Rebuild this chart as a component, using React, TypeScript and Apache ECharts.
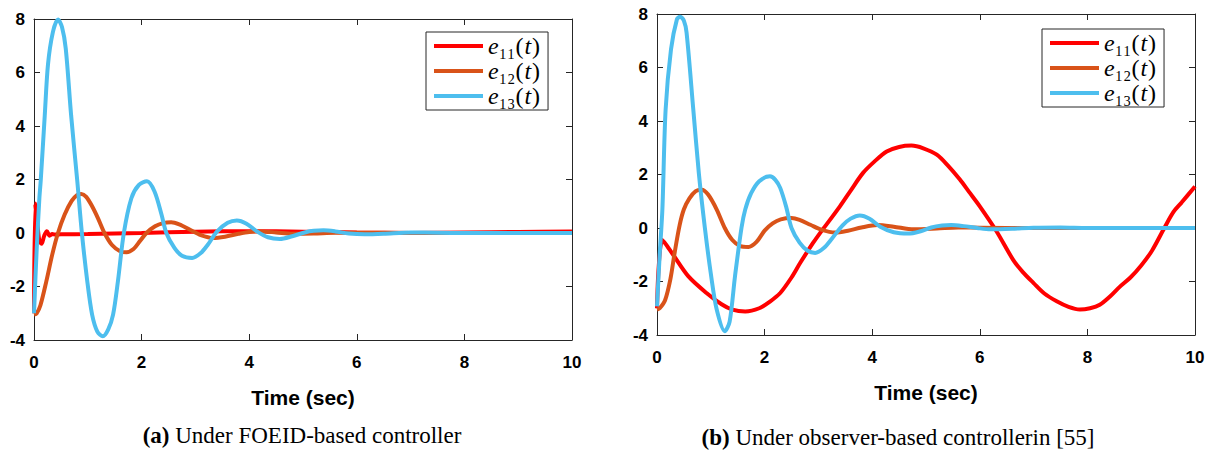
import React, { useEffect, useRef } from "react";
import * as echarts from "echarts";

// ---------- data ----------
const seriesNames = ["e₁₁(t)", "e₁₂(t)", "e₁₃(t)"];
const xTicks = [0, 2, 4, 6, 8, 10];
const yTicks = [-4, -2, 0, 2, 4, 6, 8];
const xLabel = "Time (sec)";
const captionA = ["(a)", " Under FOEID-based controller"];
const captionB = ["(b)", " Under observer-based controllerin [55]"];

// (a) Under FOEID-based controller
const a_e11: number[][] = [
  [0, -3], [0.02, 1.1], [0.05, 0.6], [0.1, -0.3], [0.14, -0.4], [0.19, -0.1], [0.24, 0.07],
  [0.29, -0.1], [0.34, -0.04], [0.4, -0.06], [0.5, -0.05], [1, -0.04], [2, 0.0], [3, 0.05],
  [4, 0.07], [5, 0.05], [6, 0.02], [7, 0.0], [8, 0.02], [9, 0.04], [10, 0.06],
];
const a_e12: number[][] = [
  [0, -3.05], [0.05, -3.0], [0.12, -2.7], [0.23, -1.8], [0.34, -0.8], [0.446, 0], [0.57, 0.69],
  [0.7, 1.2], [0.8, 1.42], [0.88, 1.46], [0.97, 1.35], [1.08, 1.0], [1.19, 0.55], [1.31, 0],
  [1.45, -0.45], [1.6, -0.68], [1.72, -0.72], [1.85, -0.6], [1.97, -0.3], [2.09, 0],
  [2.25, 0.25], [2.4, 0.37], [2.55, 0.4], [2.7, 0.32], [2.9, 0.12], [3.1, -0.08], [3.33, -0.19],
  [3.55, -0.14], [3.8, -0.03], [4.0, 0.04], [4.2, 0.06], [4.5, 0.02], [4.8, -0.03], [5.2, -0.02],
  [5.6, 0.01], [6, 0.01], [7, 0], [8, 0], [10, 0],
];
const a_e13: number[][] = [
  [0, -3], [0.05, -0.6], [0.1, 1.3], [0.124, 1.93], [0.2, 4.4], [0.26, 6.3], [0.35, 7.5],
  [0.446, 7.98], [0.52, 7.7], [0.59, 6.9], [0.69, 4.4], [0.805, 1.93], [0.89, 0], [0.99, -1.8],
  [1.08, -3.05], [1.18, -3.7], [1.28, -3.86], [1.38, -3.6], [1.47, -3.05], [1.56, -1.8],
  [1.67, 0], [1.81, 1.3], [1.95, 1.8], [2.1, 1.93], [2.24, 1.55], [2.37, 0.69], [2.46, 0],
  [2.61, -0.56], [2.75, -0.85], [2.94, -0.93], [3.1, -0.75], [3.23, -0.44], [3.4, 0.05],
  [3.6, 0.38], [3.77, 0.47], [3.95, 0.35], [4.15, 0.05], [4.35, -0.16], [4.57, -0.22],
  [4.8, -0.12], [5.05, 0.03], [5.2, 0.08], [5.38, 0.1], [5.6, 0.06], [5.85, -0.02], [6.15, -0.05],
  [6.5, -0.03], [7.0, 0.02], [7.5, 0.01], [8, 0], [9, 0], [10, 0],
];

// (b) Under observer-based controller
const b_e11: number[][] = [
  [0, -3], [0.1, -0.45], [0.3, -1.0], [0.58, -1.8], [0.92, -2.43], [1.2, -2.85], [1.4, -3.05],
  [1.64, -3.12], [1.9, -3.0], [2.1, -2.75], [2.29, -2.43], [2.5, -1.85], [2.66, -1.31],
  [2.9, -0.56], [3.03, -0.19], [3.12, 0.05], [3.4, 0.81], [3.6, 1.4], [3.83, 2.06], [4.05, 2.5],
  [4.27, 2.86], [4.5, 3.03], [4.73, 3.08], [4.95, 2.98], [5.2, 2.74], [5.4, 2.35], [5.63, 1.81],
  [5.8, 1.35], [6.0, 0.81], [6.31, -0.12], [6.62, -1.19], [6.8, -1.65], [7.0, -2.06],
  [7.2, -2.45], [7.43, -2.74], [7.65, -2.95], [7.86, -3.05], [8.05, -3.0], [8.23, -2.87],
  [8.42, -2.56], [8.6, -2.2], [8.8, -1.85], [9.0, -1.4], [9.2, -0.85], [9.43, 0], [9.6, 0.6],
  [9.75, 0.95], [10, 1.55],
];
const b_e12: number[][] = [
  [0, -3.05], [0.05, -3.0], [0.15, -2.7], [0.25, -1.9], [0.33, -0.9], [0.42, 0.1], [0.5, 0.7],
  [0.6, 1.1], [0.72, 1.38], [0.83, 1.43], [0.95, 1.25], [1.11, 0.69], [1.26, 0], [1.4, -0.45],
  [1.55, -0.68], [1.7, -0.71], [1.85, -0.52], [2.0, -0.1], [2.15, 0.17], [2.3, 0.32], [2.5, 0.37],
  [2.65, 0.3], [2.85, 0.12], [3.05, -0.06], [3.31, -0.17], [3.55, -0.1], [3.8, 0.02],
  [4.1, 0.11], [4.4, 0.05], [4.77, -0.05], [5.2, -0.02], [5.6, 0.02], [6, 0.01], [7, 0], [8, 0],
  [10, 0],
];
const b_e13: number[][] = [
  [0, -2.93], [0.05, -1.0], [0.1, 0.69], [0.16, 4.42], [0.26, 6.67], [0.37, 7.8], [0.43, 7.9],
  [0.5, 7.75], [0.55, 7.3], [0.675, 4.42], [0.78, 2.0], [0.89, 0], [1.0, -1.7], [1.11, -3.05],
  [1.26, -3.86], [1.35, -3.5], [1.45, -1.8], [1.57, 0], [1.64, 0.69], [1.75, 1.3], [1.9, 1.75],
  [2.1, 1.93], [2.2, 1.8], [2.29, 1.5], [2.4, 0.8], [2.5, 0], [2.65, -0.55], [2.8, -0.85],
  [2.94, -0.93], [3.1, -0.75], [3.25, -0.4], [3.45, 0.1], [3.6, 0.35], [3.77, 0.47], [3.95, 0.35],
  [4.15, 0.05], [4.4, -0.16], [4.67, -0.21], [4.9, -0.12], [5.1, 0.02], [5.3, 0.09], [5.47, 0.11],
  [5.7, 0.07], [5.95, 0.0], [6.2, -0.05], [6.6, -0.03], [7, 0.01], [7.5, 0.02], [8, 0], [9, 0],
  [10, 0],
];

const colors = ["#FF0000", "#D95319", "#4DBEEE"];

// ---------- options ----------
const AX = "#262626";
const SANS = "Liberation Sans, Arial, sans-serif";
const SERIF = "Liberation Serif, Times New Roman, serif";
const tickFont = { fontSize: 17, fontWeight: "bold" as const, color: "#000", fontFamily: SANS };

function xAxes(gridIndex: number) {
  return [
    {
      gridIndex, type: "value", position: "bottom", min: xTicks[0], max: xTicks[xTicks.length - 1], interval: 2,
      axisLine: { show: true, onZero: false, lineStyle: { color: AX, width: 1 } },
      axisTick: { show: true, inside: true, length: 6, lineStyle: { color: AX } },
      axisLabel: { ...tickFont, margin: 14 },
      splitLine: { show: false },
      name: xLabel, nameLocation: "middle", nameGap: 47,
      nameTextStyle: { fontSize: 21, fontWeight: "bold", color: "#000", fontFamily: SANS },
    },
    {
      gridIndex, type: "value", position: "top", min: xTicks[0], max: xTicks[xTicks.length - 1], interval: 2,
      axisLine: { show: true, onZero: false, lineStyle: { color: AX, width: 1 } },
      axisTick: { show: true, inside: true, length: 6, lineStyle: { color: AX } },
      axisLabel: { show: false }, splitLine: { show: false },
    },
  ];
}
function yAxes(gridIndex: number) {
  return [
    {
      gridIndex, type: "value", position: "left", min: yTicks[0], max: yTicks[yTicks.length - 1], interval: 2,
      axisLine: { show: true, onZero: false, lineStyle: { color: AX, width: 1 } },
      axisTick: { show: true, inside: true, length: 6, lineStyle: { color: AX } },
      axisLabel: { ...tickFont, margin: 9 },
      splitLine: { show: false },
    },
    {
      gridIndex, type: "value", position: "right", min: yTicks[0], max: yTicks[yTicks.length - 1], interval: 2,
      axisLine: { show: true, onZero: false, lineStyle: { color: AX, width: 1 } },
      axisTick: { show: true, inside: true, length: 6, lineStyle: { color: AX } },
      axisLabel: { show: false }, splitLine: { show: false },
    },
  ];
}

function lineSeries(name: string, data: number[][], color: string, axisBase: number) {
  return {
    type: "line", name, data, xAxisIndex: axisBase, yAxisIndex: axisBase,
    showSymbol: false, symbol: "none", smooth: 0.3,
    lineStyle: { color, width: 4 }, itemStyle: { color },
    clip: true,
  };
}

const legendRich = {
  e: { fontFamily: SERIF, fontStyle: "italic", fontSize: 24, lineHeight: 22, color: "#000" },
  s: { fontFamily: SERIF, fontSize: 24, lineHeight: 22, color: "#000" },
  p: { fontFamily: SERIF, fontSize: 24, lineHeight: 22, color: "#000" },
  t: { fontFamily: SERIF, fontStyle: "italic", fontSize: 24, lineHeight: 22, color: "#000", padding: [0, 1, 0, 1] },
};
function legendFormatter(name: string) {
  const sub = name.slice(1, 3);
  return `{e|e}{s|${sub}}{p|(}{t|t}{p|)}`;
}
function legend(left: number, top: number) {
  return {
    left, top, orient: "vertical", data: seriesNames, icon: "rect",
    itemWidth: 49, itemHeight: 4, itemGap: 1, padding: [2, 8, 2, 8],
    borderColor: AX, borderWidth: 1, backgroundColor: "#fff",
    selectedMode: false,
    textStyle: { rich: legendRich, fontSize: 24, lineHeight: 22 },
    formatter: legendFormatter,
  };
}

function caption(x: number, y: number, parts: string[]) {
  return {
    type: "text", x, y,
    style: {
      text: `{b|${parts[0]}}{r|${parts[1]}}`,
      align: "center", verticalAlign: "middle",
      rich: {
        b: { fontFamily: SERIF, fontWeight: "bold", fontSize: 23, fill: "#000", color: "#000" },
        r: { fontFamily: SERIF, fontSize: 23, fill: "#000", color: "#000" },
      },
    },
  };
}

export default function App() {
  const ref = useRef<HTMLDivElement>(null);
  useEffect(() => {
    if (!ref.current) return;
    const chart = echarts.init(ref.current, undefined, { renderer: "svg" });
    const option: any = {
      animation: false,
      backgroundColor: "#fff",
      grid: [
        { left: 34, top: 19, width: 538, height: 321 },
        { left: 657, top: 14, width: 538, height: 321 },
      ],
      xAxis: [...xAxes(0), ...xAxes(1)],
      yAxis: [...yAxes(0), ...yAxes(1)],
      legend: [legend(426, 32), legend(1042, 29)],
      series: [
        lineSeries(seriesNames[0], a_e11, colors[0], 0),
        lineSeries(seriesNames[1], a_e12, colors[1], 0),
        lineSeries(seriesNames[2], a_e13, colors[2], 0),
        lineSeries(seriesNames[0], b_e11, colors[0], 2),
        lineSeries(seriesNames[1], b_e12, colors[1], 2),
        lineSeries(seriesNames[2], b_e13, colors[2], 2),
      ],
      graphic: [caption(302, 435, captionA), caption(898, 437, captionB)],
    };
    chart.setOption(option);
    return () => chart.dispose();
  }, []);
  return <div ref={ref} style={{ position: "absolute", left: 0, top: 0, width: 1213, height: 453 }} />;
}
